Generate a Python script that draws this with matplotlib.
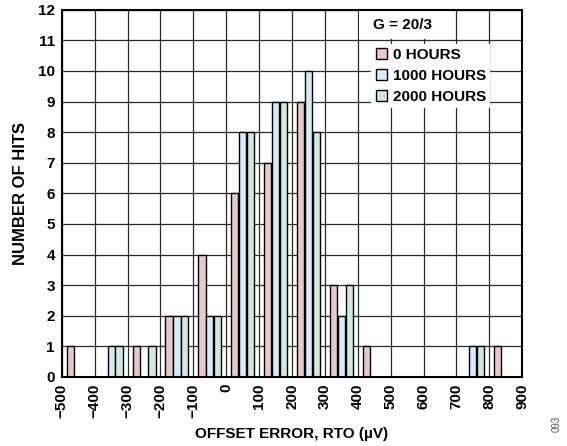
import matplotlib
matplotlib.use("Agg")
import matplotlib.pyplot as plt
from matplotlib.patches import Rectangle, Patch
import numpy as np

plt.rcParams['font.family'] = ['Liberation Sans', 'DejaVu Sans']
plt.rcParams['font.weight'] = 'bold'

# histogram bins (left edge, uV) and hit counts
bin_starts = np.arange(-500, 900, 100)
hits_0h = [1, 0, 1, 2, 4, 6, 7, 9, 3, 1, 0, 0, 0, 1]
hits_1000h = [0, 1, 0, 2, 2, 8, 9, 10, 2, 0, 0, 0, 1, 0]
hits_2000h = [0, 1, 1, 2, 2, 8, 9, 8, 3, 0, 0, 0, 1, 0]
labels = ['0 HOURS', '1000 HOURS', '2000 HOURS']
colors = ['#e8c9c9', '#d5ebf8', '#d0e9dc']
xticks = np.arange(-500, 1000, 100)
yticks = np.arange(0, 13, 1)

fig = plt.figure(figsize=(5.67, 4.46), dpi=100)
ax = fig.add_axes([0.109, 0.155, 0.812, 0.823])

centers = bin_starts + 50
w = 22
for i, (vals, c) in enumerate(zip([hits_0h, hits_1000h, hits_2000h], colors)):
    ax.bar(centers + (i - 1) * 24, vals, width=w, color=c,
           edgecolor='black', linewidth=1.0, zorder=3)

ax.set_xlim(-500, 900)
ax.set_ylim(0, 12)
ax.set_xticks(xticks)
ax.set_xticklabels([str(v).replace('-', '\u2212') for v in xticks],
                   rotation=90, fontsize=11, fontweight='bold')
ax.set_yticks(yticks)
ax.set_yticklabels([str(v) for v in yticks], fontsize=11, fontweight='bold')
ax.tick_params(length=0, pad=5)
ax.grid(True, color='#2a2a2a', linewidth=0.9, zorder=0)
ax.set_axisbelow(True)
for s in ax.spines.values():
    s.set_linewidth(1.5)
    s.set_zorder(5)

ax.set_xlabel('OFFSET ERROR, RTO (\u00b5V)', fontsize=11, fontweight='bold', labelpad=6)
ax.set_ylabel('NUMBER OF HITS', fontsize=12, fontweight='bold', labelpad=7)

# gain label box
ax.add_patch(Rectangle((405, 11.04), 290, 0.92, facecolor='white',
                       edgecolor='none', zorder=2))
ax.text(535, 11.5, 'G = 20/3', ha='center', va='center', fontsize=11,
        fontweight='bold', zorder=4)

handles = [Patch(facecolor=c, edgecolor='black', linewidth=1.0) for c in colors]
leg = ax.legend(handles, labels, loc='upper left', bbox_to_anchor=(0.672, 0.908),
                frameon=True, fancybox=False, framealpha=1, edgecolor='none',
                prop={'size': 11, 'weight': 'bold'}, handlelength=0.75,
                handleheight=0.75, handletextpad=0.35, labelspacing=0.45,
                borderpad=0.3, borderaxespad=0)
leg.set_zorder(4)

fig.text(0.982, 0.05, '093', rotation=90, fontsize=7, fontweight='normal',
         color='#555555', ha='center', va='center')

fig.savefig('out.png', dpi=100)
